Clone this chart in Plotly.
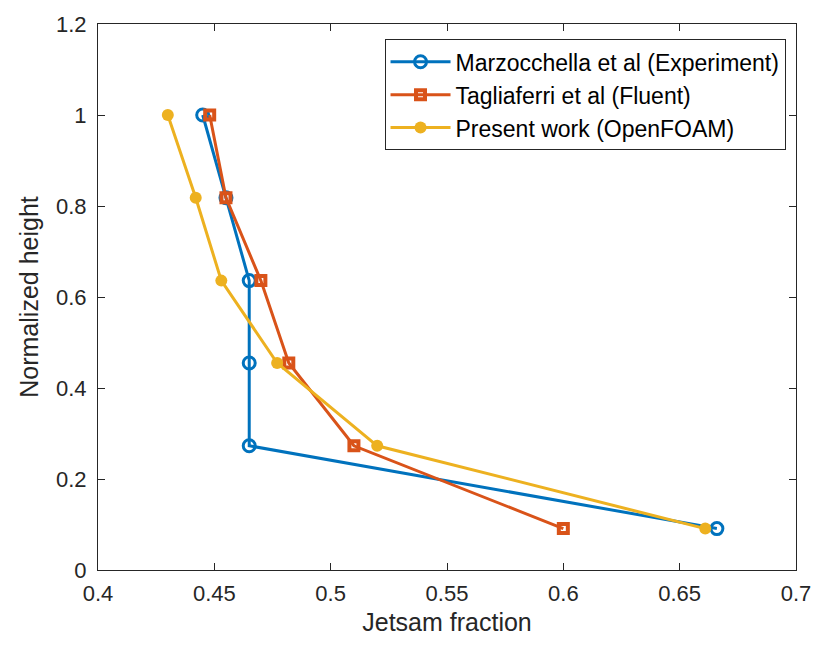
import plotly.graph_objects as go

height = [1.0, 0.818, 0.636, 0.455, 0.273, 0.091]
exp_x = [0.445, 0.455, 0.465, 0.465, 0.465, 0.666]
fluent_x = [0.448, 0.455, 0.470, 0.482, 0.510, 0.600]
foam_x = [0.430, 0.442, 0.453, 0.477, 0.520, 0.661]

names = ["Marzocchella et al (Experiment)", "Tagliaferri et al (Fluent)", "Present work (OpenFOAM)"]
colors = ["#0072BD", "#D95319", "#EDB120"]

FONT = "Liberation Sans, Arial"

fig = go.Figure()
fig.add_trace(go.Scatter(x=exp_x, y=height, mode="lines+markers", name=names[0],
                         line=dict(color=colors[0], width=3),
                         marker=dict(symbol="circle-open", size=12, color=colors[0], line=dict(width=3))))
fig.add_trace(go.Scatter(x=fluent_x, y=height, mode="lines+markers", name=names[1],
                         line=dict(color=colors[1], width=3),
                         marker=dict(symbol="square-open", size=9, color=colors[1], line=dict(width=4))))
fig.add_trace(go.Scatter(x=foam_x, y=height, mode="lines+markers", name=names[2],
                         line=dict(color=colors[2], width=3),
                         marker=dict(symbol="circle", size=12, color=colors[2])))

axis_common = dict(showgrid=False, zeroline=False, showline=True, linecolor="#262626", linewidth=1,
                   mirror="ticks", ticks="inside", ticklen=7, tickcolor="#262626",
                   tickfont=dict(family=FONT, size=22, color="#262626"))

fig.update_xaxes(range=[0.4, 0.7], tickvals=[0.4, 0.45, 0.5, 0.55, 0.6, 0.65, 0.7],
                 ticktext=["0.4", "0.45", "0.5", "0.55", "0.6", "0.65", "0.7"],
                 title=dict(text="Jetsam fraction", font=dict(family=FONT, size=25, color="#262626"), standoff=8),
                 ticklabelstandoff=4,
                 **axis_common)
fig.update_yaxes(range=[0, 1.2], tickvals=[0, 0.2, 0.4, 0.6, 0.8, 1, 1.2],
                 ticktext=["0", "0.2", "0.4", "0.6", "0.8", "1", "1.2"],
                 title=dict(text="Normalized height", font=dict(family=FONT, size=25, color="#262626"), standoff=10),
                 ticklabelstandoff=6,
                 **axis_common)

fig.update_layout(width=823, height=646, plot_bgcolor="white", paper_bgcolor="white",
                  margin=dict(l=98, r=23, t=20, b=76),
                  legend=dict(x=0.985, y=0.972, xanchor="right", yanchor="top",
                              bordercolor="#262626", borderwidth=1, bgcolor="white",
                              font=dict(family=FONT, size=23, color="#000000"),
                              tracegroupgap=0, itemwidth=60),
                  showlegend=True)

fig.write_html("out.html")
